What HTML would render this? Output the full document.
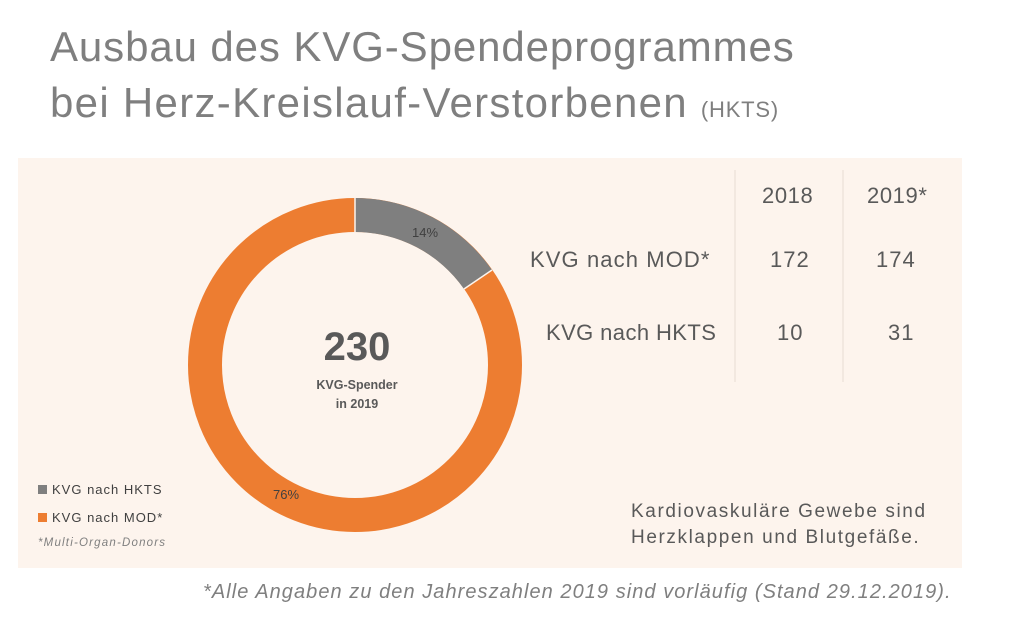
<!DOCTYPE html>
<html><head><meta charset="utf-8"><style>
body{margin:0;width:1030px;height:628px;background:#fff;position:relative;overflow:hidden;font-family:"Liberation Sans","DejaVu Sans",sans-serif;}
.t{position:absolute;color:#7f7f7f;white-space:nowrap}
</style></head><body>
<div class="t" style="left:50px;top:23px;font-size:42px;letter-spacing:0.9px">Ausbau des KVG-Spendeprogrammes</div>
<div class="t" style="left:50px;top:79px;font-size:42px;letter-spacing:1.3px">bei Herz-Kreislauf-Verstorbenen <span style="font-size:22px;letter-spacing:0.8px">(HKTS)</span></div>
<div style="position:absolute;left:18px;top:158px;width:944px;height:410px;background:#fdf4ed"></div>
<svg style="position:absolute;left:0;top:0" width="1030" height="628">
<circle cx="355" cy="365" r="150" fill="none" stroke="#ed7d31" stroke-width="34"/>
<path d="M355 198 A167 167 0 0 1 492 270 L464 289 A133 133 0 0 0 355 232 Z" fill="#7f7f7f"/>
<line x1="355" y1="198" x2="355" y2="232" stroke="#fdf4ed" stroke-width="1.5"/>
<line x1="492" y1="270" x2="464" y2="289" stroke="#fdf4ed" stroke-width="1.5"/>
<line x1="735" y1="170" x2="735" y2="382" stroke="#e8dcd3" stroke-width="1"/>
<line x1="843" y1="170" x2="843" y2="382" stroke="#e8dcd3" stroke-width="1"/>
<text x="425" y="237" font-size="13" fill="#404040" text-anchor="middle" font-family="Liberation Sans,sans-serif">14%</text>
<text x="286" y="499" font-size="13" fill="#404040" text-anchor="middle" font-family="Liberation Sans,sans-serif">76%</text>
<text x="357" y="360" font-size="40" font-weight="bold" fill="#595959" text-anchor="middle" font-family="Liberation Sans,sans-serif">230</text>
<text x="357" y="389" font-size="12.5" font-weight="bold" fill="#595959" text-anchor="middle" font-family="Liberation Sans,sans-serif">KVG-Spender</text>
<text x="357" y="408" font-size="12.5" font-weight="bold" fill="#595959" text-anchor="middle" font-family="Liberation Sans,sans-serif">in 2019</text>
<rect x="38" y="485" width="9" height="9" fill="#7f7f7f"/>
<rect x="38" y="513" width="9" height="9" fill="#ed7d31"/>
</svg>
<div class="t" style="left:52px;top:482px;font-size:13px;color:#404040;letter-spacing:1px">KVG nach HKTS</div>
<div class="t" style="left:52px;top:510px;font-size:13px;color:#404040;letter-spacing:1px">KVG nach MOD*</div>
<div class="t" style="left:38px;top:537px;font-size:11.5px;font-style:italic;color:#7f7f7f;letter-spacing:1.2px">*Multi-Organ-Donors</div>
<div class="t" style="left:762px;top:183px;font-size:22px;color:#595959;letter-spacing:0.6px">2018</div>
<div class="t" style="left:867px;top:183px;font-size:22px;color:#595959;letter-spacing:0.6px">2019*</div>
<div class="t" style="left:530px;top:247px;font-size:22px;color:#595959;letter-spacing:1.1px">KVG nach MOD*</div>
<div class="t" style="left:770px;top:247px;font-size:22px;color:#595959;letter-spacing:1px">172</div>
<div class="t" style="left:876px;top:247px;font-size:22px;color:#595959;letter-spacing:1px">174</div>
<div class="t" style="left:546px;top:320px;font-size:22px;color:#595959;letter-spacing:0.4px">KVG nach HKTS</div>
<div class="t" style="left:777px;top:320px;font-size:22px;color:#595959;letter-spacing:1px">10</div>
<div class="t" style="left:888px;top:320px;font-size:22px;color:#595959;letter-spacing:1px">31</div>
<div class="t" style="left:631px;top:499px;font-size:19px;color:#595959;line-height:26px;letter-spacing:1.6px">Kardiovaskuläre Gewebe sind<br>Herzklappen und Blutgefäße.</div>
<div class="t" style="left:203px;top:581px;font-size:20px;font-style:italic;color:#7f7f7f;letter-spacing:1.05px">*Alle Angaben zu den Jahreszahlen 2019 sind vorläufig (Stand 29.12.2019).</div>
</body></html>
